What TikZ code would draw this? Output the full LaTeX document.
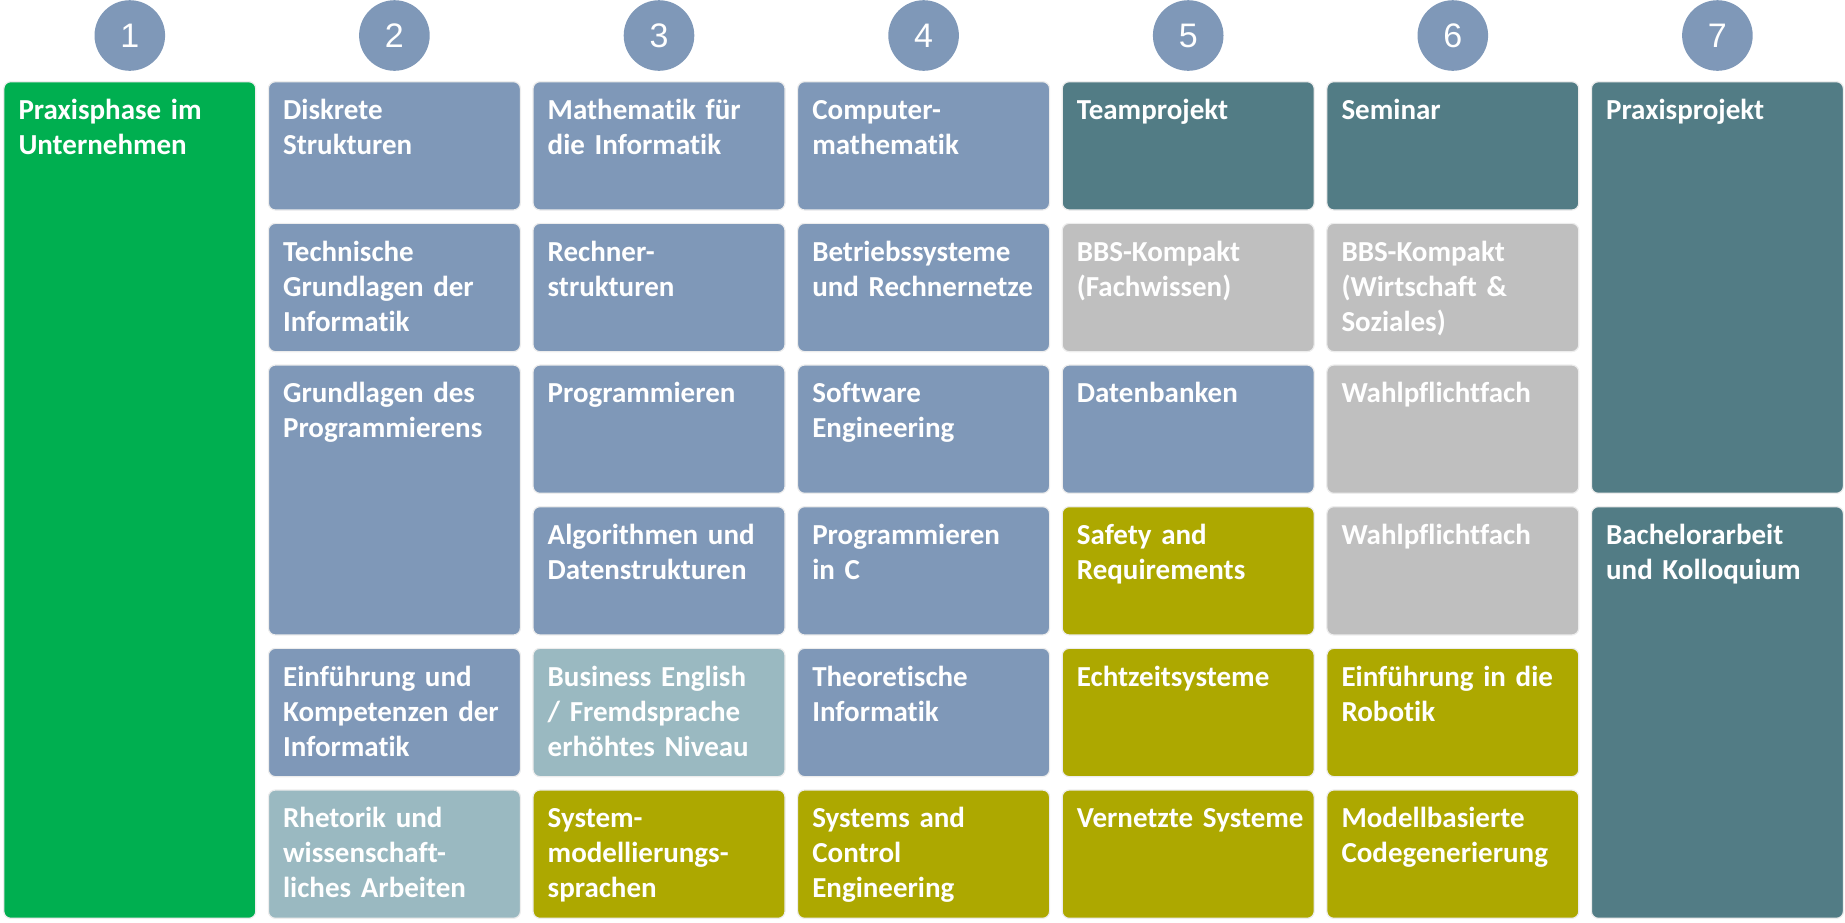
\documentclass[tikz,border=0pt]{standalone}
\usepackage{fontspec}
\setmainfont{Carlito}[Ligatures=NoCommon]
\newfontfamily\numfont{Liberation Sans}
\definecolor{cgreen}{HTML}{00AF50}
\definecolor{cblue}{HTML}{7F98B8}
\definecolor{cteal}{HTML}{527C85}
\definecolor{clteal}{HTML}{9AB9C1}
\definecolor{cgray}{HTML}{BFBFBF}
\definecolor{colive}{HTML}{ADA800}
\tikzset{
  box/.style={draw=black!7, line width=1.2pt, rounded corners=7pt, minimum width=252pt, inner sep=0pt, outer sep=0pt},
  txt/.style={text=white, font=\bfseries\fontsize{29}{35}\selectfont, align=left, text width=240pt, inner sep=0pt},
  num/.style={circle, fill=cblue, minimum size=70.6pt, inner sep=0pt, text=white, font=\numfont\fontsize{34}{40}\selectfont},
  green/.style={fill=cgreen}, blue/.style={fill=cblue}, teal/.style={fill=cteal},
  lteal/.style={fill=clteal}, gray/.style={fill=cgray}, olive/.style={fill=colive}
}
\newcommand\course[5]{%
  \node[box,#4, minimum height={128.3+141.66*(#3-1)}, anchor=north west] (c#1r#2) at ({3.8+264.6*#1},{81.7+141.66*#2}) {};
  \node[txt, anchor=base west] (c#1r#2t) at ([xshift=14.5pt,yshift=-37.8pt]c#1r#2.north west) {#5};
}
\begin{document}
\begin{tikzpicture}[x=1pt,y=-1pt]
\useasboundingbox (0,0) rectangle (1845,922);
\foreach \i in {0,...,6}{
  \pgfmathtruncatemacro\n{\i+1}
  \node[num] (n\n) at ({3.8+264.6*\i+126},35.5) {\n};
}
\course{0}{0}{6}{green}{Praxisphase im\\Unternehmen}
\course{1}{0}{1}{blue}{Diskrete\\Strukturen}
\course{1}{1}{1}{blue}{Technische\\Grundlagen der\\Informatik}
\course{1}{2}{2}{blue}{Grundlagen des\\Programmierens}
\course{1}{4}{1}{blue}{Einführung und\\Kompetenzen der\\Informatik}
\course{1}{5}{1}{lteal}{Rhetorik und\\wissenschaft-\\liches Arbeiten}
\course{2}{0}{1}{blue}{Mathematik für\\die Informatik}
\course{2}{1}{1}{blue}{Rechner-\\strukturen}
\course{2}{2}{1}{blue}{Programmieren}
\course{2}{3}{1}{blue}{Algorithmen und\\Datenstrukturen}
\course{2}{4}{1}{lteal}{Business English\\/ Fremdsprache\\erhöhtes Niveau}
\course{2}{5}{1}{olive}{System-\\modellierungs-\\sprachen}
\course{3}{0}{1}{blue}{Computer-\\mathematik}
\course{3}{1}{1}{blue}{Betriebssysteme\\und Rechnernetze}
\course{3}{2}{1}{blue}{Software\\Engineering}
\course{3}{3}{1}{blue}{Programmieren\\in C}
\course{3}{4}{1}{blue}{Theoretische\\Informatik}
\course{3}{5}{1}{olive}{Systems and\\Control\\Engineering}
\course{4}{0}{1}{teal}{Teamprojekt}
\course{4}{1}{1}{gray}{BBS-Kompakt\\(Fachwissen)}
\course{4}{2}{1}{blue}{Datenbanken}
\course{4}{3}{1}{olive}{Safety and\\Requirements}
\course{4}{4}{1}{olive}{Echtzeitsysteme}
\course{4}{5}{1}{olive}{Vernetzte Systeme}
\course{5}{0}{1}{teal}{Seminar}
\course{5}{1}{1}{gray}{BBS-Kompakt\\(Wirtschaft \&\\Soziales)}
\course{5}{2}{1}{gray}{Wahlpflichtfach}
\course{5}{3}{1}{gray}{Wahlpflichtfach}
\course{5}{4}{1}{olive}{Einführung in die\\Robotik}
\course{5}{5}{1}{olive}{Modellbasierte\\Codegenerierung}
\course{6}{0}{3}{teal}{Praxisprojekt}
\course{6}{3}{3}{teal}{Bachelorarbeit\\und Kolloquium}
\end{tikzpicture}
\end{document}
